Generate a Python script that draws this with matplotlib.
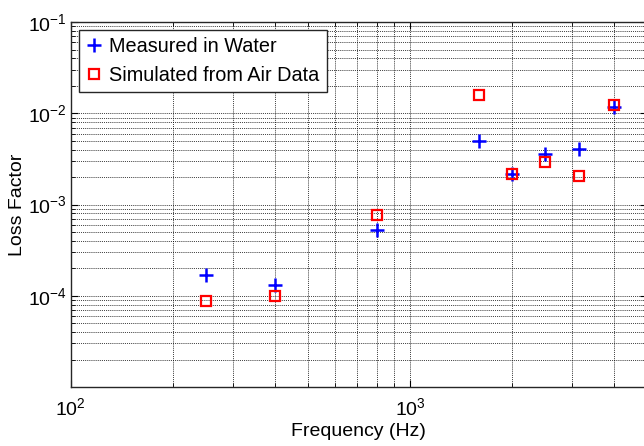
import matplotlib
import matplotlib.pyplot as plt

matplotlib.use("Agg")

plt.rcParams["font.family"] = ["Liberation Sans", "DejaVu Sans"]
plt.rcParams["mathtext.fontset"] = "custom"
plt.rcParams["mathtext.rm"] = "Liberation Sans"

# third-octave band centres (Hz)
freq = [250, 400, 800, 1600, 2000, 2500, 3150, 4000]

# loss factor measured in water
measured = [1.70e-4, 1.32e-4, 5.3e-4, 5.0e-3, 2.17e-3, 3.6e-3, 4.05e-3, 1.18e-2]

# loss factor simulated from air data
simulated = [8.7e-5, 9.9e-5, 7.7e-4, 1.6e-2, 2.15e-3, 2.9e-3, 2.07e-3, 1.25e-2]

# only these decades carry a label on the y axis
yticks = [1e-4, 1e-3, 1e-2, 1e-1]

fig = plt.figure(figsize=(6.44, 4.46), dpi=100)
ax = fig.add_axes([0.1098, 0.1323, 0.895, 0.818])

ax.plot(freq, measured, linestyle="none", marker="+", color="#0000ff",
        markersize=10, markeredgewidth=1.8, label="Measured in Water")
ax.plot(freq, simulated, linestyle="none", marker="s", color="#ff0000",
        markerfacecolor="none", markersize=6.5, markeredgewidth=1.6,
        label="Simulated from Air Data")

ax.set_xscale("log")
ax.set_yscale("log")
ax.set_xlim(100, 5000)
ax.set_ylim(1e-5, 1e-1)
ax.set_yticks(yticks)

ax.grid(True, which="both", color="black", linestyle=(0, (1, 1.3)), linewidth=0.6)
ax.set_axisbelow(True)

ax.tick_params(which="both", direction="in", top=True, right=True,
               labelsize=14)
ax.tick_params(axis="x", which="major", length=5, pad=7)
ax.tick_params(axis="y", which="major", length=5, pad=3)
ax.tick_params(which="minor", length=3)
for s in ax.spines.values():
    s.set_linewidth(1.0)
    s.set_color("0.15")

ax.set_xlabel("Frequency (Hz)", fontsize=14, labelpad=3)
ax.set_ylabel("Loss Factor", fontsize=14)
ax.yaxis.set_label_coords(-0.078, 0.5)

leg = ax.legend(loc="upper left", fontsize=14.3, fancybox=False, framealpha=1,
                edgecolor="0.15", handlelength=0.8, handletextpad=0.4,
                borderpad=0.35, labelspacing=0.5, borderaxespad=0.4)
leg.get_frame().set_linewidth(1.0)

fig.savefig("out.png", dpi=100)
